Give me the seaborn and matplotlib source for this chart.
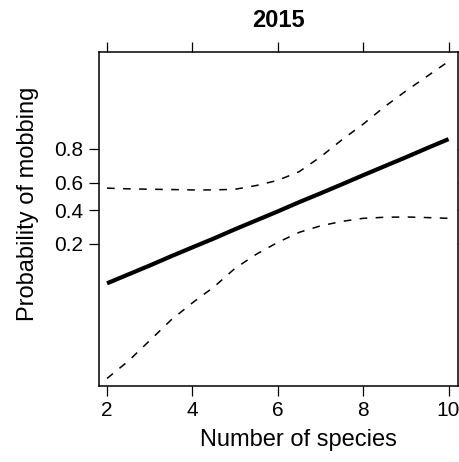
import numpy as np
import pandas as pd
import matplotlib
matplotlib.use("Agg")
import matplotlib.pyplot as plt
import seaborn as sns
from matplotlib.ticker import FixedLocator, FixedFormatter, NullLocator

# Number of species
species = [2, 2.5, 3, 3.5, 4, 4.5, 5, 5.5, 6, 6.5, 7, 7.5, 8, 8.5, 9, 9.5, 10]
# Predicted probability of mobbing (fit) and 95% CI bounds
fit = [0.0731, 0.0928, 0.1171, 0.148, 0.184, 0.226, 0.277, 0.332, 0.392,
       0.458, 0.522, 0.587, 0.650, 0.707, 0.758, 0.804, 0.842]
upper = [0.560, 0.555, 0.552, 0.550, 0.547, 0.547, 0.552, 0.579, 0.615,
         0.673, 0.760, 0.839, 0.892, 0.932, 0.956, 0.971, 0.981]
lower = [0.00487, 0.00808, 0.0146, 0.0263, 0.0427, 0.066, 0.109, 0.156, 0.207,
         0.259, 0.297, 0.325, 0.345, 0.352, 0.354, 0.350, 0.345]

x_ticks = [2, 4, 6, 8, 10]
y_ticks = [0.2, 0.4, 0.6, 0.8]
y_tick_labels = ["0.2", "0.4", "0.6", "0.8"]

df = pd.DataFrame({"species": species, "fit": fit, "upper": upper, "lower": lower})

sns.set_style("ticks")
plt.rcParams["font.family"] = ["Liberation Sans", "DejaVu Sans"]
plt.rcParams["text.color"] = "black"
plt.rcParams["axes.labelcolor"] = "black"
plt.rcParams["xtick.color"] = "black"
plt.rcParams["ytick.color"] = "black"

fig = plt.figure(figsize=(4.6, 4.62), dpi=100)
ax = fig.add_axes([98.5 / 460, 1 - 386 / 462, (457.5 - 98.5) / 460, (386 - 52) / 462])

sns.lineplot(data=df, x="species", y="fit", ax=ax, color="black", linewidth=3.0,
             solid_capstyle="butt")
sns.lineplot(data=df, x="species", y="upper", ax=ax, color="black", linewidth=1.1)
sns.lineplot(data=df, x="species", y="lower", ax=ax, color="black", linewidth=1.1)
for ln in ax.lines[1:]:
    ln.set_linestyle((0, (5, 5.5)))

ax.set_yscale("logit")
ax.set_xlim(1.80, 10.21)
ax.set_ylim(0.00391, 0.9855)
ax.yaxis.set_major_locator(FixedLocator(y_ticks))
ax.yaxis.set_major_formatter(FixedFormatter(y_tick_labels))
ax.yaxis.set_minor_locator(NullLocator())
ax.set_xticks(x_ticks)
ax.set_xticklabels([str(t) for t in x_ticks])

for s in ax.spines.values():
    s.set_linewidth(1.1)
    s.set_visible(True)
    s.set_color("black")

ax.tick_params(axis="both", which="major", direction="out", length=7, width=0.9,
               labelsize=15, colors="black", labelcolor="black", top=True, right=True,
               labeltop=False, labelright=False, pad=4)

ax.set_xlabel("Number of species", fontsize=17, color="black")
ax.set_ylabel("Probability of mobbing", fontsize=17, color="black")
ax.xaxis.set_label_coords(0.557, -0.162)
ax.yaxis.set_label_coords(-0.196, 0.545)
ax.yaxis.label.set_va("center")
ax.xaxis.label.set_va("center")
ax.set_title("2015", fontsize=17, fontweight="bold", pad=18, color="black")

fig.savefig("out.png", dpi=100, facecolor="white")
